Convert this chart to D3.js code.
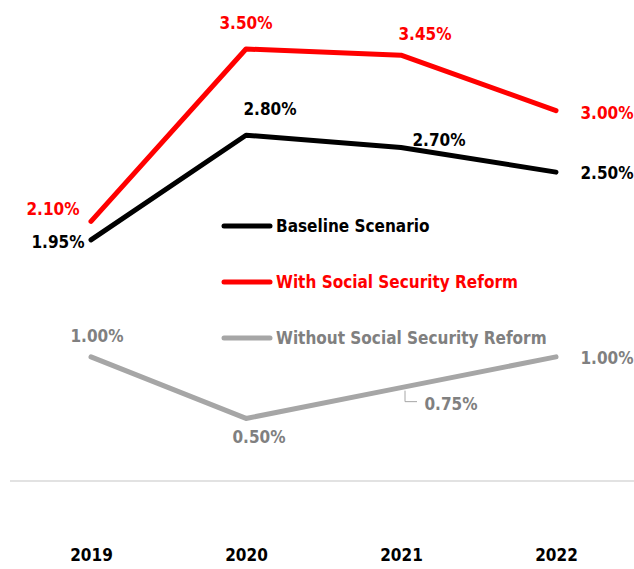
<!DOCTYPE html>
<html>
<head>
<meta charset="utf-8">
<script src="https://cdn.jsdelivr.net/npm/d3@7"></script>
<style>
  body { margin: 0; background: #fff; }
  text { font-family: "DejaVu Sans Condensed", "DejaVu Sans", sans-serif; font-stretch: condensed; font-weight: bold; }
</style>
</head>
<body>
<div id="chart"></div>
<script>
const years = ["2019", "2020", "2021", "2022"];
const baseline = [1.95, 2.80, 2.70, 2.50];
const withReform = [2.10, 3.50, 3.45, 3.00];
const withoutReform = [1.00, 0.50, 0.75, 1.00];
const seriesNames = ["Baseline Scenario", "With Social Security Reform", "Without Social Security Reform"];

const totalWidth = 634;
const totalHeight = 569;

// label offsets relative to the point (dx, dy)
const series = [
  { name: seriesNames[0], values: baseline, line: "#000000", text: "#000000",
    offsets: [[-33, 2], [24, -26], [38, -8], [51, 1]] },
  { name: seriesNames[1], values: withReform, line: "#ff0000", text: "#ff0000",
    offsets: [[-38, -12], [0, -26], [24, -21], [51, 2]] },
  { name: seriesNames[2], values: withoutReform, line: "#a6a6a6", text: "#808080",
    offsets: [[6, -21], [13, 19], [50, 16], [51, 1]] }
];

const svg = d3.select("#chart").append("svg")
  .attr("width", totalWidth)
  .attr("height", totalHeight);

const x = d3.scalePoint()
  .domain(years)
  .range([91, 556]);

const y = d3.scaleLinear()
  .domain([0, 3.5])
  .range([480, 49]);

// zero line
svg.append("line")
  .attr("x1", 10).attr("x2", totalWidth)
  .attr("y1", y(0) + 1).attr("y2", y(0) + 1)
  .attr("stroke", "#d9d9d9")
  .attr("stroke-width", 1.5);

// x axis labels
const xAxis = svg.append("g")
  .attr("transform", "translate(0," + 549 + ")")
  .call(d3.axisBottom(x).tickSize(0).tickPadding(0));
xAxis.select(".domain").remove();
xAxis.selectAll("text")
  .attr("font-family", null)
  .attr("font-size", 17)
  .attr("fill", "#000");

const line = d3.line()
  .x((d, i) => x(years[i]))
  .y(d => y(d));

// draw order: gray, black, red
[series[2], series[0], series[1]].forEach(s => {
  svg.append("path")
    .datum(s.values)
    .attr("d", line)
    .attr("fill", "none")
    .attr("stroke", s.line)
    .attr("stroke-width", 5)
    .attr("stroke-linecap", "round")
    .attr("stroke-linejoin", "round");
});

// leader line for 0.75%
svg.append("path")
  .attr("d", "M" + (x("2021") + 4) + "," + (y(0.75) + 3) + "V" + (y(0.75) + 14) + "h12")
  .attr("fill", "none")
  .attr("stroke", "#a6a6a6")
  .attr("stroke-width", 1);

// data labels
series.forEach(s => {
  svg.append("g").selectAll("text")
    .data(s.values)
    .enter()
    .append("text")
    .attr("x", (d, i) => x(years[i]) + s.offsets[i][0])
    .attr("y", (d, i) => y(d) + s.offsets[i][1])
    .attr("text-anchor", "middle")
    .attr("dominant-baseline", "central")
    .attr("font-size", 17)
    .attr("fill", s.text)
    .text(d => d.toFixed(2) + "%");
});

// legend
const legend = svg.append("g")
  .attr("transform", "translate(222,226)");
series.forEach((s, i) => {
  const g = legend.append("g").attr("transform", "translate(0," + (i * 56) + ")");
  g.append("line")
    .attr("x1", 2).attr("x2", 48)
    .attr("stroke", s.line)
    .attr("stroke-width", 5)
    .attr("stroke-linecap", "round");
  g.append("text")
    .attr("x", 54)
    .attr("dominant-baseline", "central")
    .attr("font-size", 17)
    .attr("fill", s.text)
    .text(s.name);
});
</script>
</body>
</html>
